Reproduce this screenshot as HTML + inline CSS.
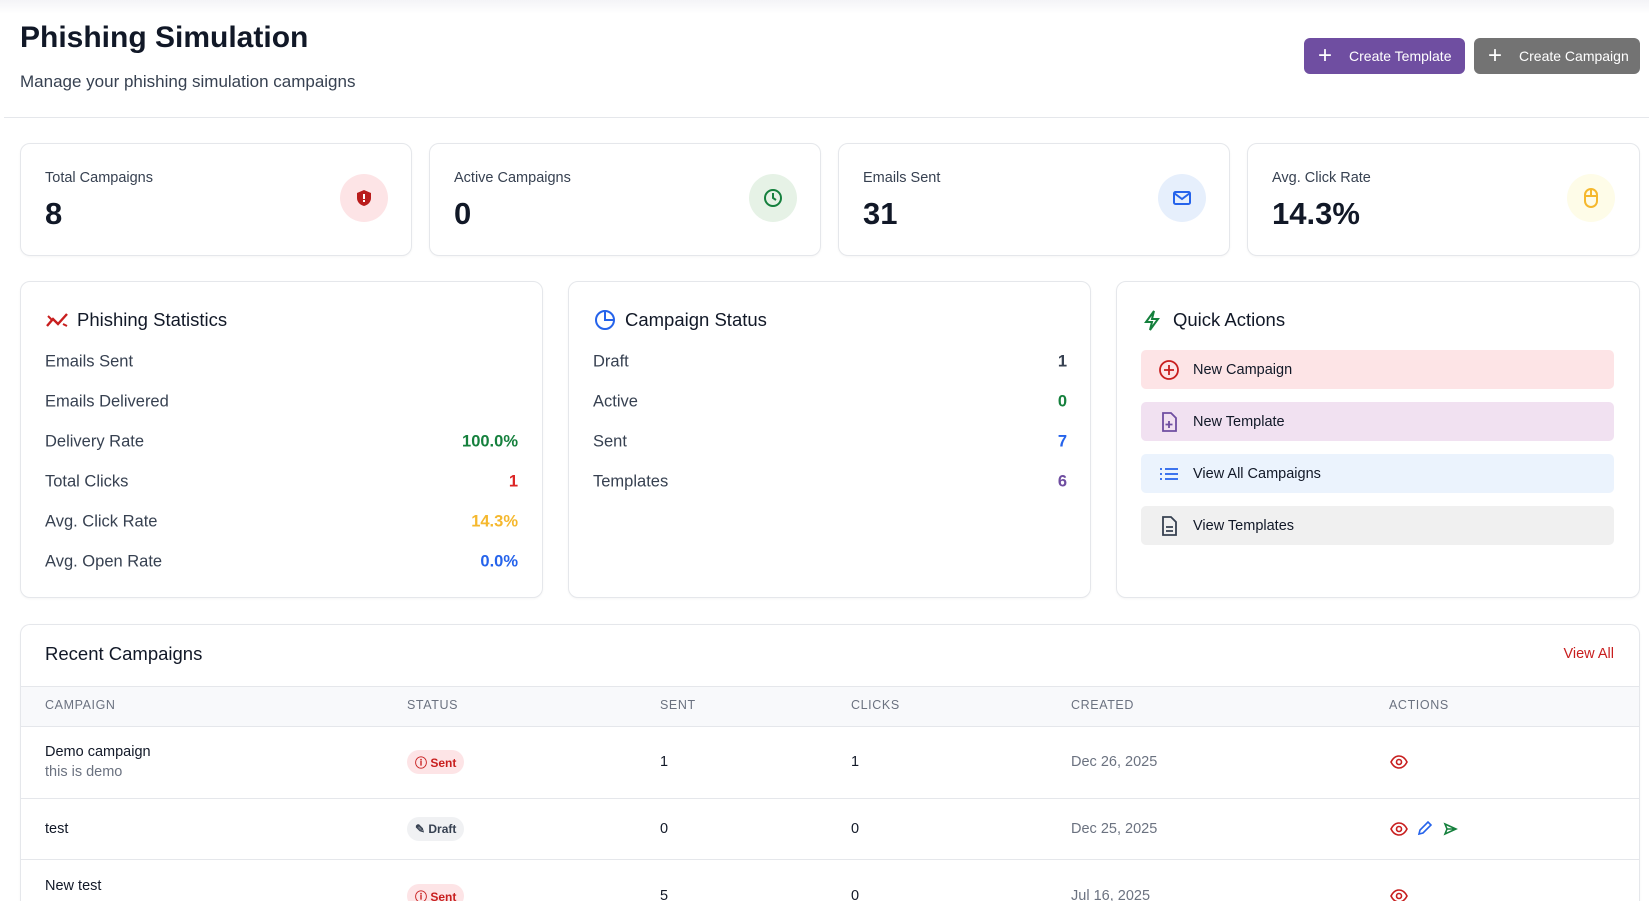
<!DOCTYPE html>
<html><head><meta charset="utf-8"><style>
*{box-sizing:border-box;margin:0;padding:0}
html{width:1649px;height:901px;overflow:hidden}
body{width:1649px;height:901px;overflow:hidden;background:#fff;font-family:"Liberation Sans",Arial,sans-serif;color:#111827;position:relative}
.a{position:absolute}
.card{position:absolute;border:1px solid #e5e7eb;border-radius:10px;background:#fff;box-shadow:0 1px 2px rgba(0,0,0,.04)}
.lbl{position:absolute;font-size:14.5px;color:#374151}
.val{position:absolute;font-size:31px;font-weight:bold;color:#111827}
.ic{position:absolute;width:48px;height:48px;border-radius:50%;display:flex;align-items:center;justify-content:center}
.ptitle{position:absolute;font-size:18.5px;color:#111827;top:309px}
.row{position:absolute;font-size:16.5px;color:#374151;transform:translateY(-50%)}
.rv{position:absolute;font-size:16.5px;font-weight:bold;transform:translateY(-50%);text-align:right}
.qa{position:absolute;left:1141px;width:473px;height:39px;border-radius:5px;font-size:14.5px;color:#111827;display:flex;align-items:center;padding-left:52px}
.qa svg{position:absolute;left:17px;top:9px}
.th{position:absolute;top:698px;font-size:12.5px;color:#6b7280;letter-spacing:.6px}
.td{position:absolute;font-size:14.5px;color:#111827;transform:translateY(-50%)}
.badge{position:absolute;height:24px;border-radius:12px;font-size:12px;font-weight:bold;display:flex;align-items:center;padding:0 8px;transform:translateY(-50%)}
.btn{position:absolute;top:38px;height:36px;border-radius:6px;color:#fff;font-size:14px;display:flex;align-items:center;white-space:nowrap}
</style></head><body>
<div class="a" style="left:0;top:0;width:1649px;height:14px;background:linear-gradient(#f4f4f7,#fff)"></div>
<div class="a" style="left:4px;top:117px;width:1645px;border-top:1px solid #e5e7eb"></div>
<div class="a" style="left:20px;top:21px;font-size:30px;font-weight:bold;color:#111827">Phishing Simulation</div>
<div class="a" style="left:20px;top:72px;font-size:17px;color:#374151">Manage your phishing simulation campaigns</div>
<div class="btn" style="left:1304px;width:161px;background:#6f4ea1"><span style="margin-left:14px;font-size:24px;font-weight:300;line-height:1">+</span><span style="margin-left:17px">Create Template</span></div>
<div class="btn" style="left:1474px;width:166px;background:#737373"><span style="margin-left:14px;font-size:24px;font-weight:300;line-height:1">+</span><span style="margin-left:17px">Create Campaign</span></div>

<div class="card" style="left:20px;top:143px;width:392px;height:113px"></div>
<div class="card" style="left:429px;top:143px;width:392px;height:113px"></div>
<div class="card" style="left:838px;top:143px;width:392px;height:113px"></div>
<div class="card" style="left:1247px;top:143px;width:393px;height:113px"></div>
<div class="lbl" style="left:45px;top:170px">Total Campaigns</div><div class="val" style="left:45px;top:196px">8</div>
<div class="lbl" style="left:454px;top:170px">Active Campaigns</div><div class="val" style="left:454px;top:196px">0</div>
<div class="lbl" style="left:863px;top:170px">Emails Sent</div><div class="val" style="left:863px;top:196px">31</div>
<div class="lbl" style="left:1272px;top:170px">Avg. Click Rate</div><div class="val" style="left:1272px;top:196px">14.3%</div>
<div class="ic" style="left:340px;top:174px;background:#fde4e6"><svg width="20" height="20" viewBox="0 0 20 20"><path d="M10 2l7 3v5c0 4-3 7-7 8-4-1-7-4-7-8V5z" fill="#b91c1c"/><rect x="9" y="6" width="2" height="5" fill="#fff"/><rect x="9" y="12" width="2" height="2" fill="#fff"/></svg></div>
<div class="ic" style="left:749px;top:174px;background:#e6f2e6"><svg width="22" height="22" viewBox="0 0 22 22"><circle cx="11" cy="11" r="8" fill="none" stroke="#15803d" stroke-width="2"/><path d="M11 6v5l3 2" fill="none" stroke="#15803d" stroke-width="2"/></svg></div>
<div class="ic" style="left:1158px;top:174px;background:#e6effc"><svg width="22" height="22" viewBox="0 0 22 22"><rect x="3" y="5" width="16" height="12" rx="1.5" fill="none" stroke="#2563eb" stroke-width="2"/><path d="M3 6l8 6 8-6" fill="none" stroke="#2563eb" stroke-width="2"/></svg></div>
<div class="ic" style="left:1567px;top:174px;background:#fefce8"><svg width="20" height="22" viewBox="0 0 20 22"><rect x="4" y="2" width="12" height="18" rx="6" fill="none" stroke="#f5b82e" stroke-width="2"/><path d="M10 2v7M4 9h12" stroke="#f5b82e" stroke-width="2"/></svg></div>

<div class="card" style="left:20px;top:281px;width:523px;height:317px"></div>
<div class="card" style="left:568px;top:281px;width:523px;height:317px"></div>
<div class="card" style="left:1116px;top:281px;width:524px;height:317px"></div>
<svg class="a" style="left:45px;top:310px" width="24" height="20" viewBox="0 0 24 20"><path d="M2 16l6-7 5 5 9-10" fill="none" stroke="#c81e1e" stroke-width="2.4"/><path d="M3 6l4 4M18 14l4 2" stroke="#c81e1e" stroke-width="2"/></svg>
<div class="ptitle" style="left:77px">Phishing Statistics</div>
<svg class="a" style="left:594px;top:309px" width="22" height="22" viewBox="0 0 22 22"><circle cx="11" cy="11" r="9" fill="none" stroke="#2563eb" stroke-width="2"/><path d="M11 2v9h9" fill="none" stroke="#2563eb" stroke-width="2"/></svg>
<div class="ptitle" style="left:625px">Campaign Status</div>
<svg class="a" style="left:1143px;top:309px" width="18" height="22" viewBox="0 0 18 22"><path d="M11 2L3 13h6l-2 8 8-11H9z" fill="none" stroke="#15803d" stroke-width="2"/></svg>
<div class="ptitle" style="left:1173px">Quick Actions</div>

<div class="row" style="left:45px;top:362px">Emails Sent</div>
<div class="row" style="left:45px;top:402px">Emails Delivered</div>
<div class="row" style="left:45px;top:442px">Delivery Rate</div><div class="rv" style="right:1131px;top:442px;color:#15803d">100.0%</div>
<div class="row" style="left:45px;top:482px">Total Clicks</div><div class="rv" style="right:1131px;top:482px;color:#dc2626">1</div>
<div class="row" style="left:45px;top:522px">Avg. Click Rate</div><div class="rv" style="right:1131px;top:522px;color:#f5b82e">14.3%</div>
<div class="row" style="left:45px;top:562px">Avg. Open Rate</div><div class="rv" style="right:1131px;top:562px;color:#2563eb">0.0%</div>

<div class="row" style="left:593px;top:362px">Draft</div><div class="rv" style="right:582px;top:362px;color:#374151">1</div>
<div class="row" style="left:593px;top:402px">Active</div><div class="rv" style="right:582px;top:402px;color:#15803d">0</div>
<div class="row" style="left:593px;top:442px">Sent</div><div class="rv" style="right:582px;top:442px;color:#2563eb">7</div>
<div class="row" style="left:593px;top:482px">Templates</div><div class="rv" style="right:582px;top:482px;color:#6f4ea1">6</div>

<div class="qa" style="top:350px;background:#fde4e6"><svg width="22" height="22" viewBox="0 0 22 22"><circle cx="11" cy="11" r="9" fill="none" stroke="#c81e1e" stroke-width="1.8"/><path d="M11 6v10M6 11h10" stroke="#c81e1e" stroke-width="1.8"/></svg>New Campaign</div>
<div class="qa" style="top:402px;background:#f1e1f1"><svg width="22" height="22" viewBox="0 0 22 22"><path d="M5 2h8l5 5v13H5z" fill="none" stroke="#6f4ea1" stroke-width="1.8"/><path d="M11 10v7M7.5 13.5h7" stroke="#6f4ea1" stroke-width="1.8"/></svg>New Template</div>
<div class="qa" style="top:454px;background:#ebf3fd"><svg width="22" height="22" viewBox="0 0 22 22"><path d="M7 6h13M7 11h13M7 16h13M2 6h2M2 11h2M2 16h2" stroke="#2563eb" stroke-width="1.8"/></svg>View All Campaigns</div>
<div class="qa" style="top:506px;background:#f0f0f0"><svg width="22" height="22" viewBox="0 0 22 22"><path d="M5 2h8l5 5v13H5z" fill="none" stroke="#374151" stroke-width="1.8"/><path d="M8 12h7M8 16h7" stroke="#374151" stroke-width="1.8"/></svg>View Templates</div>

<div class="card" style="left:20px;top:624px;width:1620px;height:277px;overflow:hidden;border-bottom:none;border-radius:10px 10px 0 0">
<div class="a" style="left:0;top:61px;width:100%;height:41px;background:#f8f9fb;border-top:1px solid #e5e7eb;border-bottom:1px solid #e5e7eb"></div>
<div class="a" style="left:0;top:173px;width:100%;border-top:1px solid #e5e7eb"></div>
<div class="a" style="left:0;top:234px;width:100%;border-top:1px solid #e5e7eb"></div>
</div>
<div class="a" style="left:45px;top:643px;font-size:18.5px;color:#111827">Recent Campaigns</div>
<div class="a" style="right:35px;top:646px;font-size:14.5px;color:#c81e1e">View All</div>
<div class="th" style="left:45px">CAMPAIGN</div><div class="th" style="left:407px">STATUS</div><div class="th" style="left:660px">SENT</div><div class="th" style="left:851px">CLICKS</div><div class="th" style="left:1071px">CREATED</div><div class="th" style="left:1389px">ACTIONS</div>

<div class="td" style="left:45px;top:752px">Demo campaign</div>
<div class="td" style="left:45px;top:772px;color:#6b7280">this is demo</div>
<div class="badge" style="left:407px;top:762px;background:#fde4e6;color:#c81e1e">ⓘ&nbsp;Sent</div>
<div class="td" style="left:660px;top:762px">1</div><div class="td" style="left:851px;top:762px">1</div>
<div class="td" style="left:1071px;top:762px;color:#6b7280">Dec 26, 2025</div>

<div class="td" style="left:45px;top:829px">test</div>
<div class="badge" style="left:407px;top:829px;background:#f0f1f3;color:#374151">✎&nbsp;Draft</div>
<div class="td" style="left:660px;top:829px">0</div><div class="td" style="left:851px;top:829px">0</div>
<div class="td" style="left:1071px;top:829px;color:#6b7280">Dec 25, 2025</div>

<div class="td" style="left:45px;top:886px">New test</div>
<div class="badge" style="left:407px;top:896px;background:#fde4e6;color:#c81e1e">ⓘ&nbsp;Sent</div>
<div class="td" style="left:660px;top:896px">5</div><div class="td" style="left:851px;top:896px">0</div>
<div class="td" style="left:1071px;top:896px;color:#6b7280">Jul 16, 2025</div>

<svg class="a" style="left:1390px;top:755px" width="18" height="14" viewBox="0 0 18 14"><path d="M1 7c2-4 5-6 8-6s6 2 8 6c-2 4-5 6-8 6s-6-2-8-6z" fill="none" stroke="#c81e1e" stroke-width="1.6"/><circle cx="9" cy="7" r="2.5" fill="none" stroke="#c81e1e" stroke-width="1.6"/></svg>
<svg class="a" style="left:1390px;top:822px" width="18" height="14" viewBox="0 0 18 14"><path d="M1 7c2-4 5-6 8-6s6 2 8 6c-2 4-5 6-8 6s-6-2-8-6z" fill="none" stroke="#c81e1e" stroke-width="1.6"/><circle cx="9" cy="7" r="2.5" fill="none" stroke="#c81e1e" stroke-width="1.6"/></svg>
<svg class="a" style="left:1417px;top:821px" width="15" height="15" viewBox="0 0 15 15"><path d="M2 13l1-4 8-8 3 3-8 8z" fill="none" stroke="#2563eb" stroke-width="1.6"/></svg>
<svg class="a" style="left:1443px;top:822px" width="15" height="14" viewBox="0 0 15 14"><path d="M2 2l11 5-11 5 2-5z M4 7h9" fill="none" stroke="#15803d" stroke-width="1.6"/></svg>
<svg class="a" style="left:1390px;top:889px" width="18" height="14" viewBox="0 0 18 14"><path d="M1 7c2-4 5-6 8-6s6 2 8 6c-2 4-5 6-8 6s-6-2-8-6z" fill="none" stroke="#c81e1e" stroke-width="1.6"/><circle cx="9" cy="7" r="2.5" fill="none" stroke="#c81e1e" stroke-width="1.6"/></svg>
</body></html>
